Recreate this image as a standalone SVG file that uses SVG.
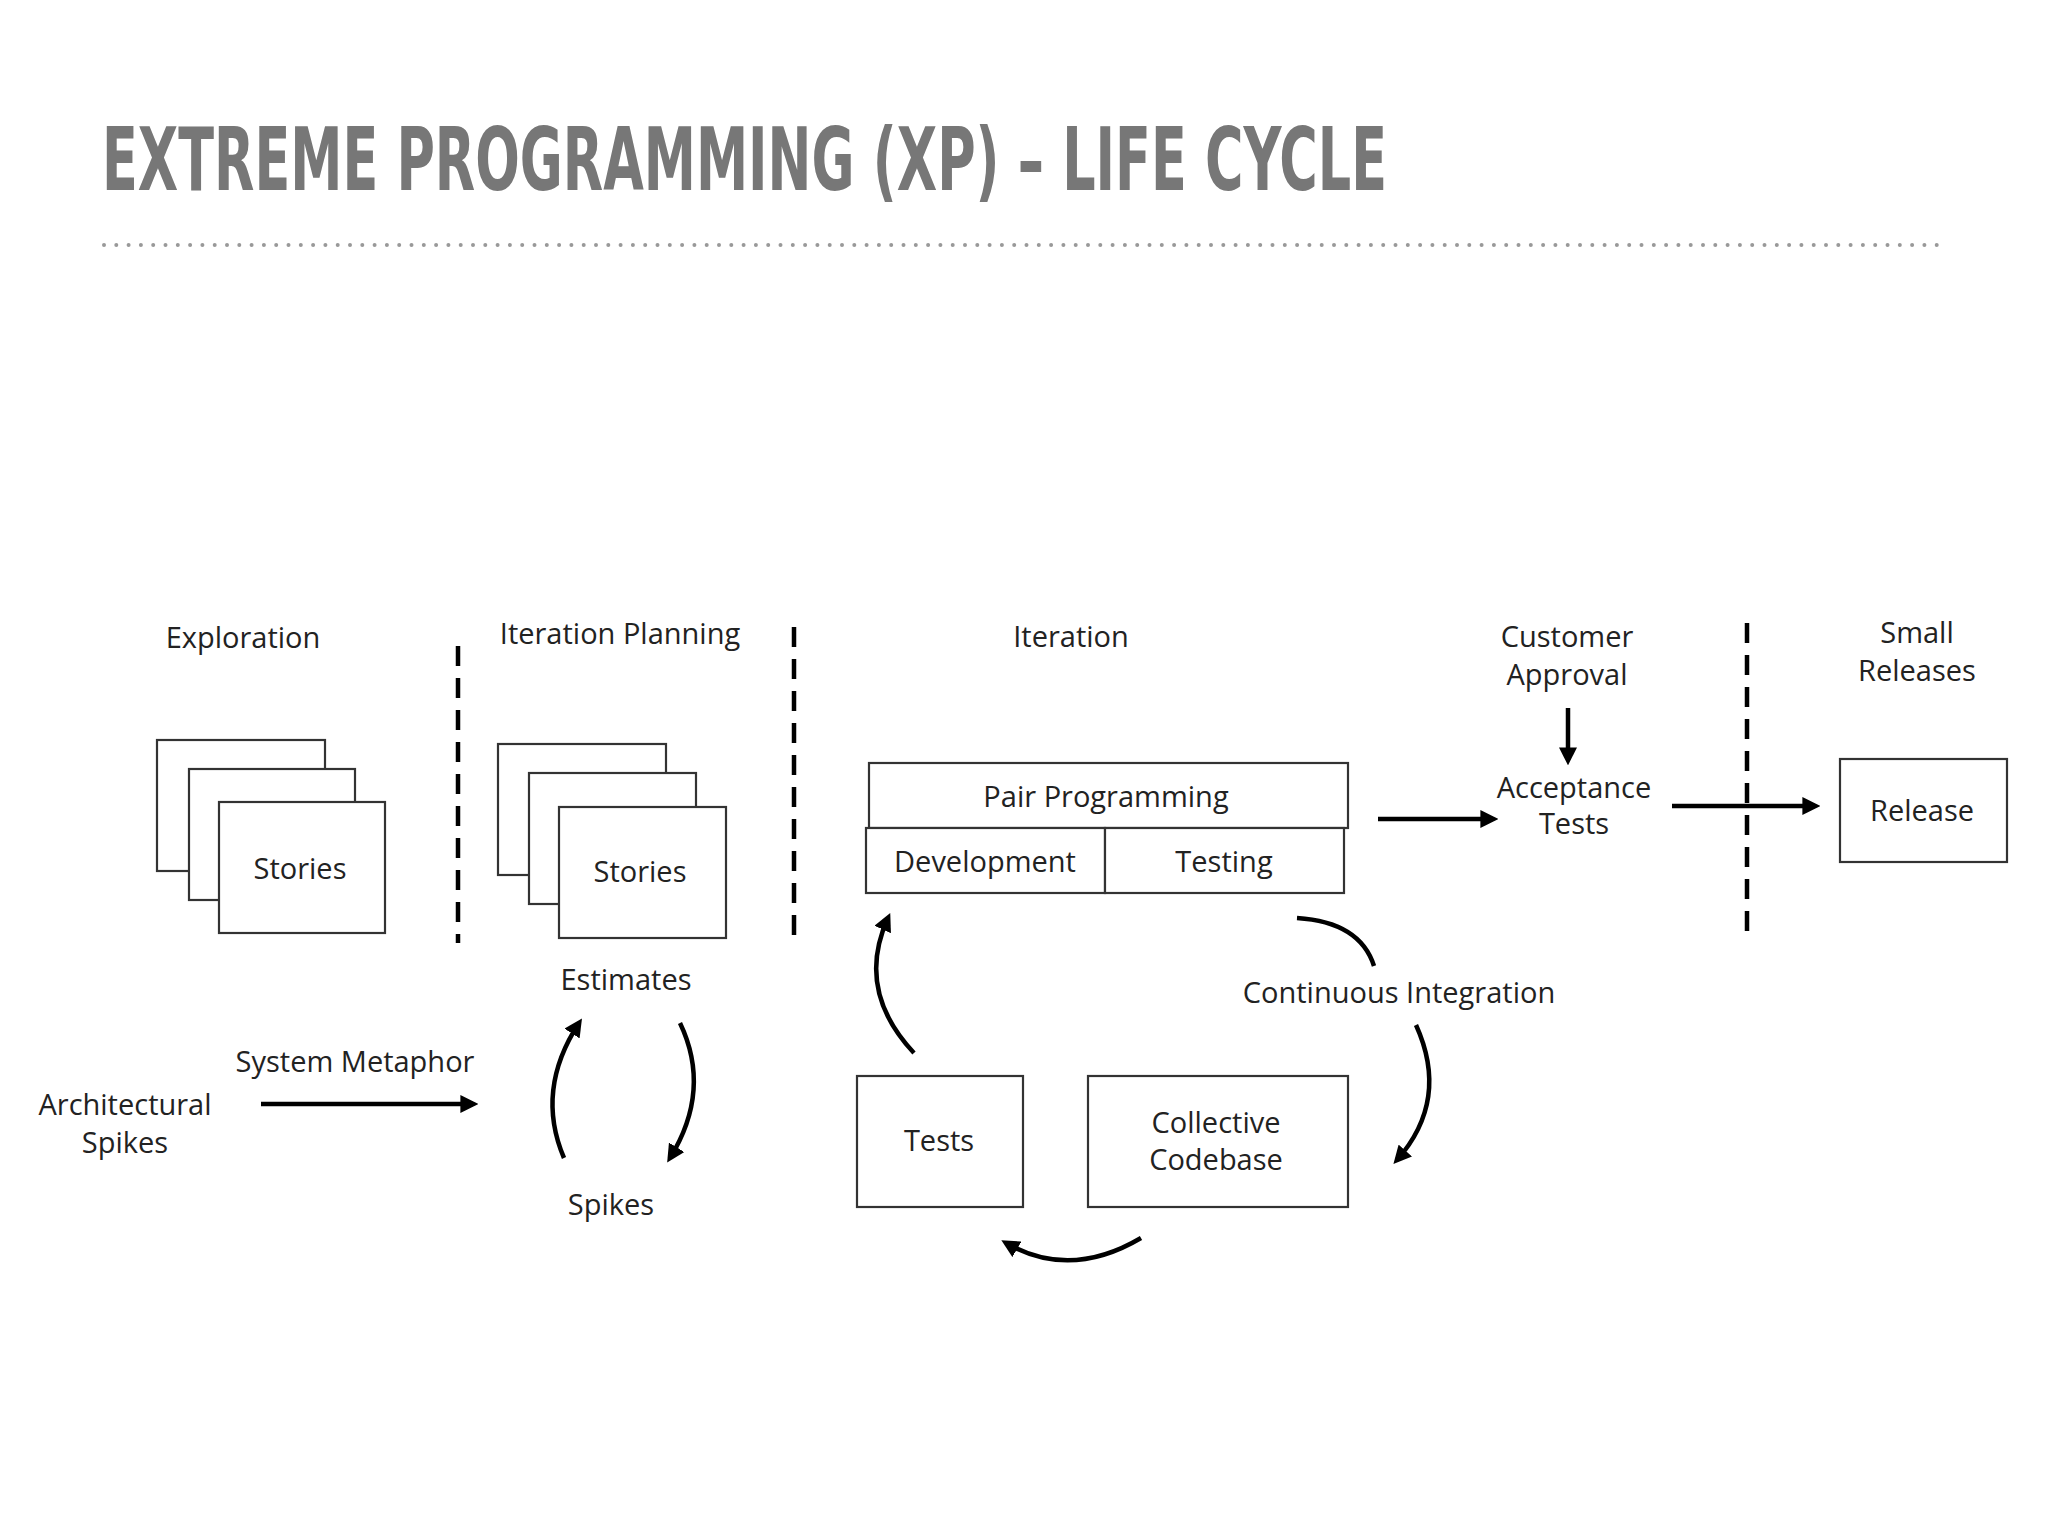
<svg xmlns="http://www.w3.org/2000/svg" width="2048" height="1536" viewBox="0 0 2048 1536">
<style>
.t{font-family:"Open Sans","Noto Sans",sans-serif;font-size:29px;fill:#222;text-anchor:middle}
.b{fill:#fff;stroke:#333;stroke-width:2.2}
.a{fill:none;stroke:#000;stroke-width:4.5;marker-end:url(#m)}
.c{fill:none;stroke:#000;stroke-width:4.5}
.d{stroke:#000;stroke-width:4.5;stroke-dasharray:20,12}
</style>
<defs><marker id="m" viewBox="0 0 10 10" refX="7" refY="5" markerWidth="4" markerHeight="4" orient="auto" markerUnits="strokeWidth"><path d="M0,0L10,5L0,10z" fill="#000"/></marker></defs>
<rect width="2048" height="1536" fill="#fff"/>
<text x="102" y="190" font-family="'DejaVu Sans Condensed','Liberation Sans',sans-serif" font-weight="bold" font-size="88" fill="#777" textLength="1285" lengthAdjust="spacingAndGlyphs">EXTREME PROGRAMMING (XP) – LIFE CYCLE</text>
<line x1="104" y1="245" x2="1946" y2="245" stroke="#999" stroke-width="4" stroke-dasharray="0,12.3" stroke-linecap="round"/>
<g id="dividers"><line class="d" x1="458" y1="646" x2="458" y2="943"/><line class="d" x1="794" y1="627" x2="794" y2="943"/><line class="d" x1="1747" y1="623" x2="1747" y2="943"/></g>
<g id="exploration"><text class="t" x="243" y="648">Exploration</text>
<rect class="b" x="157" y="740" width="168" height="131"/><rect class="b" x="189" y="769" width="166" height="131"/><rect class="b" x="219" y="802" width="166" height="131"/><text class="t" x="300" y="879">Stories</text></g>
<g id="planning"><text class="t" x="620" y="644">Iteration Planning</text>
<rect class="b" x="498" y="744" width="168" height="131"/><rect class="b" x="529" y="773" width="167" height="131"/><rect class="b" x="559" y="807" width="167" height="131"/><text class="t" x="640" y="882">Stories</text>
<text class="t" x="626" y="990">Estimates</text><text class="t" x="611" y="1215">Spikes</text></g>
<g id="arch"><text class="t" x="355" y="1072">System Metaphor</text><text class="t" x="125" y="1115">Architectural</text><text class="t" x="125" y="1153">Spikes</text></g>
<g id="iteration"><text class="t" x="1071" y="647">Iteration</text>
<rect class="b" x="869" y="763" width="479" height="65"/><text class="t" x="1106" y="807">Pair Programming</text>
<rect class="b" x="866" y="828" width="239" height="65"/><text class="t" x="985" y="872">Development</text>
<rect class="b" x="1105" y="828" width="239" height="65"/><text class="t" x="1224" y="872">Testing</text>
<text class="t" x="1399" y="1003">Continuous Integration</text>
<rect class="b" x="857" y="1076" width="166" height="131"/><text class="t" x="939" y="1151">Tests</text>
<rect class="b" x="1088" y="1076" width="260" height="131"/><text class="t" x="1216" y="1133">Collective</text><text class="t" x="1216" y="1170">Codebase</text></g>
<g id="approval"><text class="t" x="1567" y="647">Customer</text><text class="t" x="1567" y="685">Approval</text>
<text class="t" x="1574" y="798">Acceptance</text><text class="t" x="1574" y="834">Tests</text></g>
<g id="release"><text class="t" x="1917" y="643">Small</text><text class="t" x="1917" y="681">Releases</text>
<rect class="b" x="1840" y="759" width="167" height="103"/><text class="t" x="1922" y="821">Release</text></g>
<g id="connectors">
<path class="a" d="M564,1158 Q535,1090 579,1023"/>
<path class="a" d="M680,1023 Q712,1090 670,1158"/>
<path class="a" d="M261,1104 L473,1104"/>
<path class="a" d="M1378,819 L1493,819"/>
<path class="a" d="M1568,708 L1568,760"/>
<path class="a" d="M1672,806 L1815,806"/>
<path class="c" d="M1297,918 Q1360,922 1374,966"/>
<path class="a" d="M1416,1025 Q1450,1100 1397,1160"/>
<path class="a" d="M1141,1238 Q1070,1280 1006,1243"/>
<path class="a" d="M914,1053 Q855,990 888,918"/>
</g>
</svg>
